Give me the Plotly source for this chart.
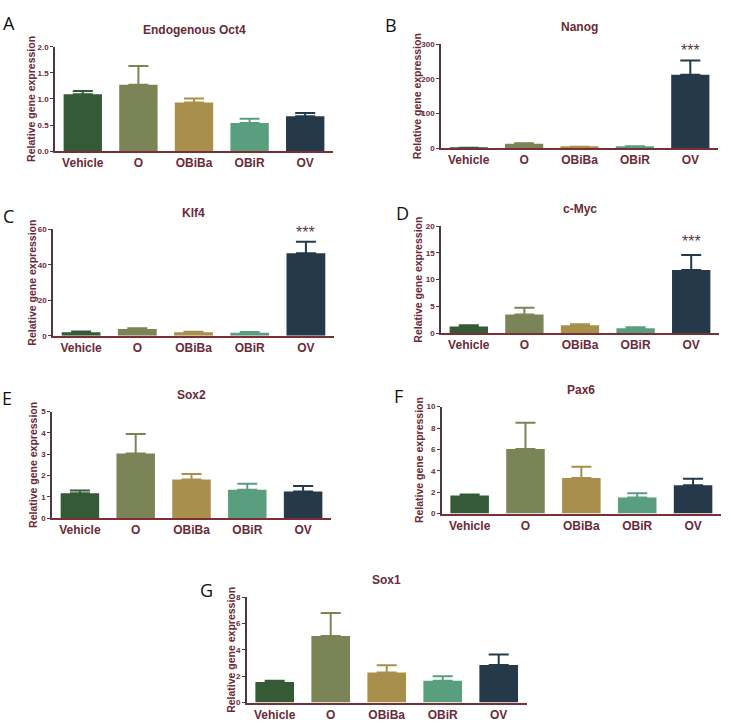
import plotly.graph_objects as go

groups = ["Vehicle", "O", "OBiBa", "OBiR", "OV"]
bar_colors = ["#345b36", "#7b8456", "#a88f4b", "#5a9e80", "#25394a"]

oct4_mean = [1.09, 1.27, 0.93, 0.54, 0.67]
oct4_sem = [0.06, 0.36, 0.08, 0.08, 0.06]
nanog_mean = [1.0, 12.5, 3.5, 4.5, 212]
nanog_sem = [0.5, 2.0, 0.5, 1.0, 41]
klf4_mean = [2.0, 3.8, 2.0, 1.7, 46.6]
klf4_sem = [0.4, 0.5, 0.3, 0.4, 6.4]
cmyc_mean = [1.23, 3.5, 1.48, 0.92, 11.8]
cmyc_sem = [0.25, 1.24, 0.18, 0.18, 2.8]
sox2_mean = [1.17, 3.04, 1.81, 1.34, 1.25]
sox2_sem = [0.13, 0.91, 0.26, 0.28, 0.26]
pax6_mean = [1.69, 6.03, 3.32, 1.51, 2.65]
pax6_sem = [0.09, 2.46, 1.05, 0.40, 0.61]
sox1_mean = [1.55, 5.05, 2.28, 1.65, 2.85]
sox1_sem = [0.10, 1.75, 0.55, 0.35, 0.80]

titles = ["Endogenous Oct4", "Nanog", "Klf4", "c-Myc", "Sox2", "Pax6", "Sox1"]
letters = ["A", "B", "C", "D", "E", "F", "G"]
y_ranges = [2, 300, 60, 20, 5, 10, 8]
y_ticks = [[0, 0.5, 1.0, 1.5, 2.0], [0, 100, 200, 300], [0, 20, 40, 60],
           [0, 5, 10, 15, 20], [0, 1, 2, 3, 4, 5], [0, 2, 4, 6, 8, 10], [0, 2, 4, 6, 8]]
y_tickformat = [".1f", "d", "d", "d", "d", "d", "d"]
star_y = [None, 283, 58.5, 17.2, None, None, None]

means = [oct4_mean, nanog_mean, klf4_mean, cmyc_mean, sox2_mean, pax6_mean, sox1_mean]
sems = [oct4_sem, nanog_sem, klf4_sem, cmyc_sem, sox2_sem, pax6_sem, sox1_sem]

W, H = 731, 724
# pixel boxes: left, right, top, bottom of plot area
boxes = [(55, 333, 43.3, 149), (441, 718, 40.7, 146), (53, 334, 228.3, 336),
         (441, 719, 225, 333.3), (52, 331, 412.7, 520.7), (441.7, 721, 407.7, 516),
         (246.7, 526.7, 600.7, 707.3)]
letter_pos = [(8.5, 19), (391, 21), (8, 215), (402, 212), (7, 399), (398, 397), (206, 593)]
ytitle_x = [31, 417, 32, 418, 33, 419, 231]

maroon = "#6b2a38"
axis_col = "#4e3840"
xline_col = "#7a2e36"
font_fam = "Liberation Sans, Arial, sans-serif"

fig = go.Figure()
annotations = []
layout = {}

for p in range(7):
    sfx = "" if p == 0 else str(p + 1)
    xa, ya = "x" + sfx, "y" + sfx
    for i, g in enumerate(groups):
        fig.add_trace(go.Bar(
            x=[g], y=[means[p][i]], xaxis=xa, yaxis=ya,
            marker=dict(color=bar_colors[i], line=dict(width=0)),
            width=0.69, showlegend=False,
            error_y=dict(type="data", symmetric=False, array=[sems[p][i]],
                         arrayminus=[0], color=bar_colors[i], thickness=2, width=10),
        ))
    l, r, t, b = boxes[p]
    layout["xaxis" + sfx] = dict(
        domain=[l / W, r / W], anchor=ya, type="category",
        categoryorder="array", categoryarray=groups, range=[-0.5, 4.5],
        showline=True, linecolor=xline_col, linewidth=1.5, ticks="",
        showgrid=False, zeroline=False,
        tickfont=dict(family=font_fam, size=12, color=maroon, weight="bold"),
    )
    layout["yaxis" + sfx] = dict(
        domain=[1 - b / H, 1 - t / H], anchor=xa, range=[0, y_ranges[p]],
        tickvals=y_ticks[p], tickformat=y_tickformat[p],
        ticks="outside", ticklen=3, tickwidth=1, tickcolor=axis_col,
        showline=True, linecolor=axis_col, linewidth=1.5,
        showgrid=False, zeroline=False,
        tickfont=dict(family=font_fam, size=8, color=maroon, weight="bold"),
    )
    annotations.append(dict(
        text=titles[p], x=(l + r) / 2 / W, y=1 - (t - 17) / H, xref="paper", yref="paper",
        showarrow=False, xanchor="center", yanchor="middle",
        font=dict(family=font_fam, size=12, color=maroon, weight="bold")))
    annotations.append(dict(
        text=letters[p], x=letter_pos[p][0] / W, y=1 - letter_pos[p][1] / H,
        xref="paper", yref="paper", showarrow=False, xanchor="center", yanchor="middle",
        font=dict(family="Open Sans, sans-serif", size=18, color="#111111")))
    annotations.append(dict(
        text="Relative gene expression", x=ytitle_x[p] / W, y=1 - (t + b) / 2 / H,
        xref="paper", yref="paper", showarrow=False, textangle=-90,
        xanchor="center", yanchor="middle",
        font=dict(family=font_fam, size=10.5, color=maroon, weight="bold")))
    if star_y[p] is not None:
        annotations.append(dict(
            text="***", x="OV", y=star_y[p], xref=xa, yref=ya, showarrow=False,
            xanchor="center", yanchor="middle",
            font=dict(family=font_fam, size=16, color="#5a3a42")))

fig.update_layout(
    width=W, height=H, margin=dict(l=0, r=0, t=0, b=0),
    paper_bgcolor="white", plot_bgcolor="white", barmode="overlay",
    annotations=annotations, showlegend=False, **layout)

fig.write_html("out.html", config={"displayModeBar": False},
               post_script="document.body.style.margin='0';document.body.style.overflow='hidden';")
